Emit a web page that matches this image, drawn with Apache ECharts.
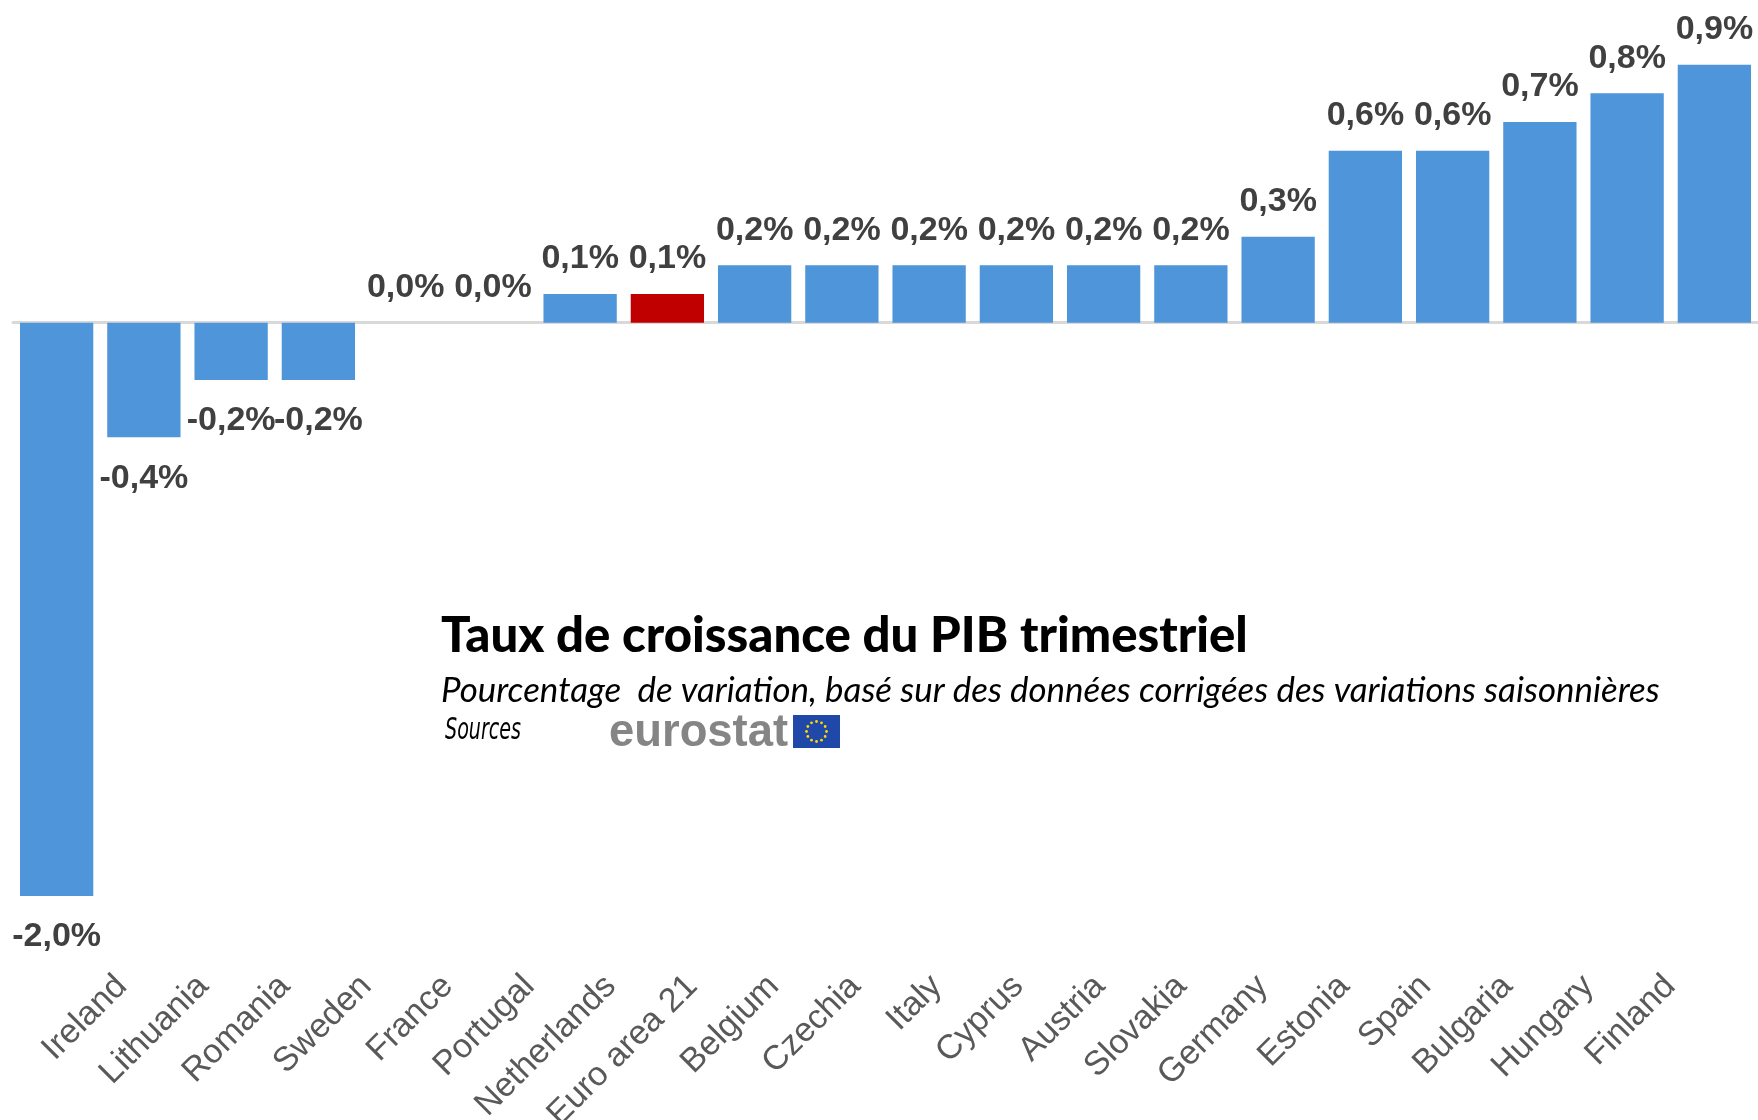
<!DOCTYPE html>
<html>
<head>
<meta charset="utf-8">
<title>Taux de croissance du PIB trimestriel</title>
<script src="https://cdn.jsdelivr.net/npm/echarts@6/dist/echarts.min.js"></script>
<style>
html,body{margin:0;padding:0;background:#fff;}
#chart{width:1758px;height:1120px;}
</style>
</head>
<body>
<div id="chart"></div>
<script>
// pays, du plus faible au plus fort
var countries = ['Ireland','Lithuania','Romania','Sweden','France','Portugal','Netherlands','Euro area 21','Belgium','Czechia','Italy','Cyprus','Austria','Slovakia','Germany','Estonia','Spain','Bulgaria','Hungary','Finland'];
// variation du PIB sur le trimestre (%)
var growth = [-2.0,-0.4,-0.2,-0.2,0.0,0.0,0.1,0.1,0.2,0.2,0.2,0.2,0.2,0.2,0.3,0.6,0.6,0.7,0.8,0.9];
// barre mise en avant (zone euro)
var highlighted = ['Euro area 21'];

var titleText = 'Taux de croissance du PIB trimestriel';
var subtitleText = 'Pourcentage  de variation, basé sur des données corrigées des variations saisonnières';
var sourceText = 'Sources';
var logoText = 'eurostat';

var BLUE = '#4f95d9';
var RED = '#c00000';

// taille de police pour tenir dans une largeur donnée
var ctx = document.createElement('canvas').getContext('2d');
function textWidth(text, font){
    ctx.font = font;
    return ctx.measureText(text).width;
}
function fitSize(text, style, family, width){
    return Math.round(1000 * width / textWidth(text, style + ' 100px ' + family)) / 10;
}
var titleSize = fitSize(titleText, '900', 'Lato', 807);
var subSize = fitSize(subtitleText, 'italic', 'Lato', 1218);
var logoSize = fitSize(logoText, 'bold', 'Liberation Sans', 179);
// "Sources" : police étroite, écrasée horizontalement
var srcFont = 'italic 30px "DejaVu Sans Condensed"';
var srcScale = 76 / textWidth(sourceText, srcFont);

function pct(v){
    return v.toFixed(1).replace('.', ',') + '%';
}

var barData = growth.map(function(v, i){
    return {
        value : v,
        itemStyle : { color : highlighted.indexOf(countries[i]) >= 0 ? RED : BLUE },
        label : { position : v < 0 ? 'bottom' : 'top', distance : v < 0 ? 24 : 18 }
    };
});

// drapeau européen : 12 étoiles en cercle
var flagStars = [];
for(var k=0;k<12;k++){
    var a = k * Math.PI / 6;
    flagStars.push({
        type : 'circle',
        shape : { cx : 816.5 + 10 * Math.cos(a), cy : 731.5 + 10 * Math.sin(a), r : 1.4 },
        style : { fill : '#ffd800' },
        z : 11
    });
}

var myChart = echarts.init(document.getElementById('chart'));
var option = {
    backgroundColor : '#fff',
    animation : false,
    grid : [
        { left : 13, right : 0, top : 36, bottom : 224, outerBoundsMode : 'none' },
        // grille des étiquettes de pays
        { left : 81, right : 47, top : 900, bottom : 147, outerBoundsMode : 'none' }
    ],
    xAxis : [
        {
            type : 'category',
            gridIndex : 0,
            data : countries,
            axisLine : { onZero : true, lineStyle : { color : '#d9d9d9', width : 3 } },
            axisTick : { show : false },
            axisLabel : { show : false }
        },
        {
            type : 'category',
            gridIndex : 1,
            data : countries,
            axisLine : { show : false },
            axisTick : { show : false },
            axisLabel : {
                rotate : 45,
                margin : 8,
                interval : 0,
                color : '#595959',
                fontFamily : 'Liberation Sans',
                fontSize : 34
            }
        }
    ],
    yAxis : [
        { type : 'value', gridIndex : 0, min : -2, max : 1, show : false },
        { type : 'value', gridIndex : 1, show : false }
    ],
    series : [
        {
            type : 'bar',
            xAxisIndex : 0,
            yAxisIndex : 0,
            barCategoryGap : '16%',
            data : barData,
            label : {
                show : true,
                color : '#404040',
                fontFamily : 'Liberation Sans',
                fontWeight : 'bold',
                fontSize : 34,
                formatter : function(p){ return pct(p.value); }
            }
        }
    ],
    graphic : [
        {
            type : 'text', x : 441, y : 636,
            style : { text : titleText, fill : '#000', font : '900 ' + titleSize + 'px Lato', verticalAlign : 'middle' }
        },
        {
            type : 'text', x : 441, y : 691,
            style : { text : subtitleText, fill : '#000', font : 'italic ' + subSize + 'px Lato', verticalAlign : 'middle' }
        },
        {
            type : 'text', x : 445, y : 731, scaleX : srcScale,
            style : { text : sourceText, fill : '#000', font : srcFont, verticalAlign : 'middle' }
        },
        {
            type : 'text', x : 609, y : 733,
            style : { text : logoText, fill : '#858585', font : 'bold ' + logoSize + 'px "Liberation Sans"', verticalAlign : 'middle' }
        },
        {
            type : 'rect',
            shape : { x : 793, y : 715, width : 47, height : 33 },
            style : { fill : '#1f48a8' },
            z : 10
        }
    ].concat(flagStars)
};
myChart.setOption(option);
</script>
</body>
</html>
